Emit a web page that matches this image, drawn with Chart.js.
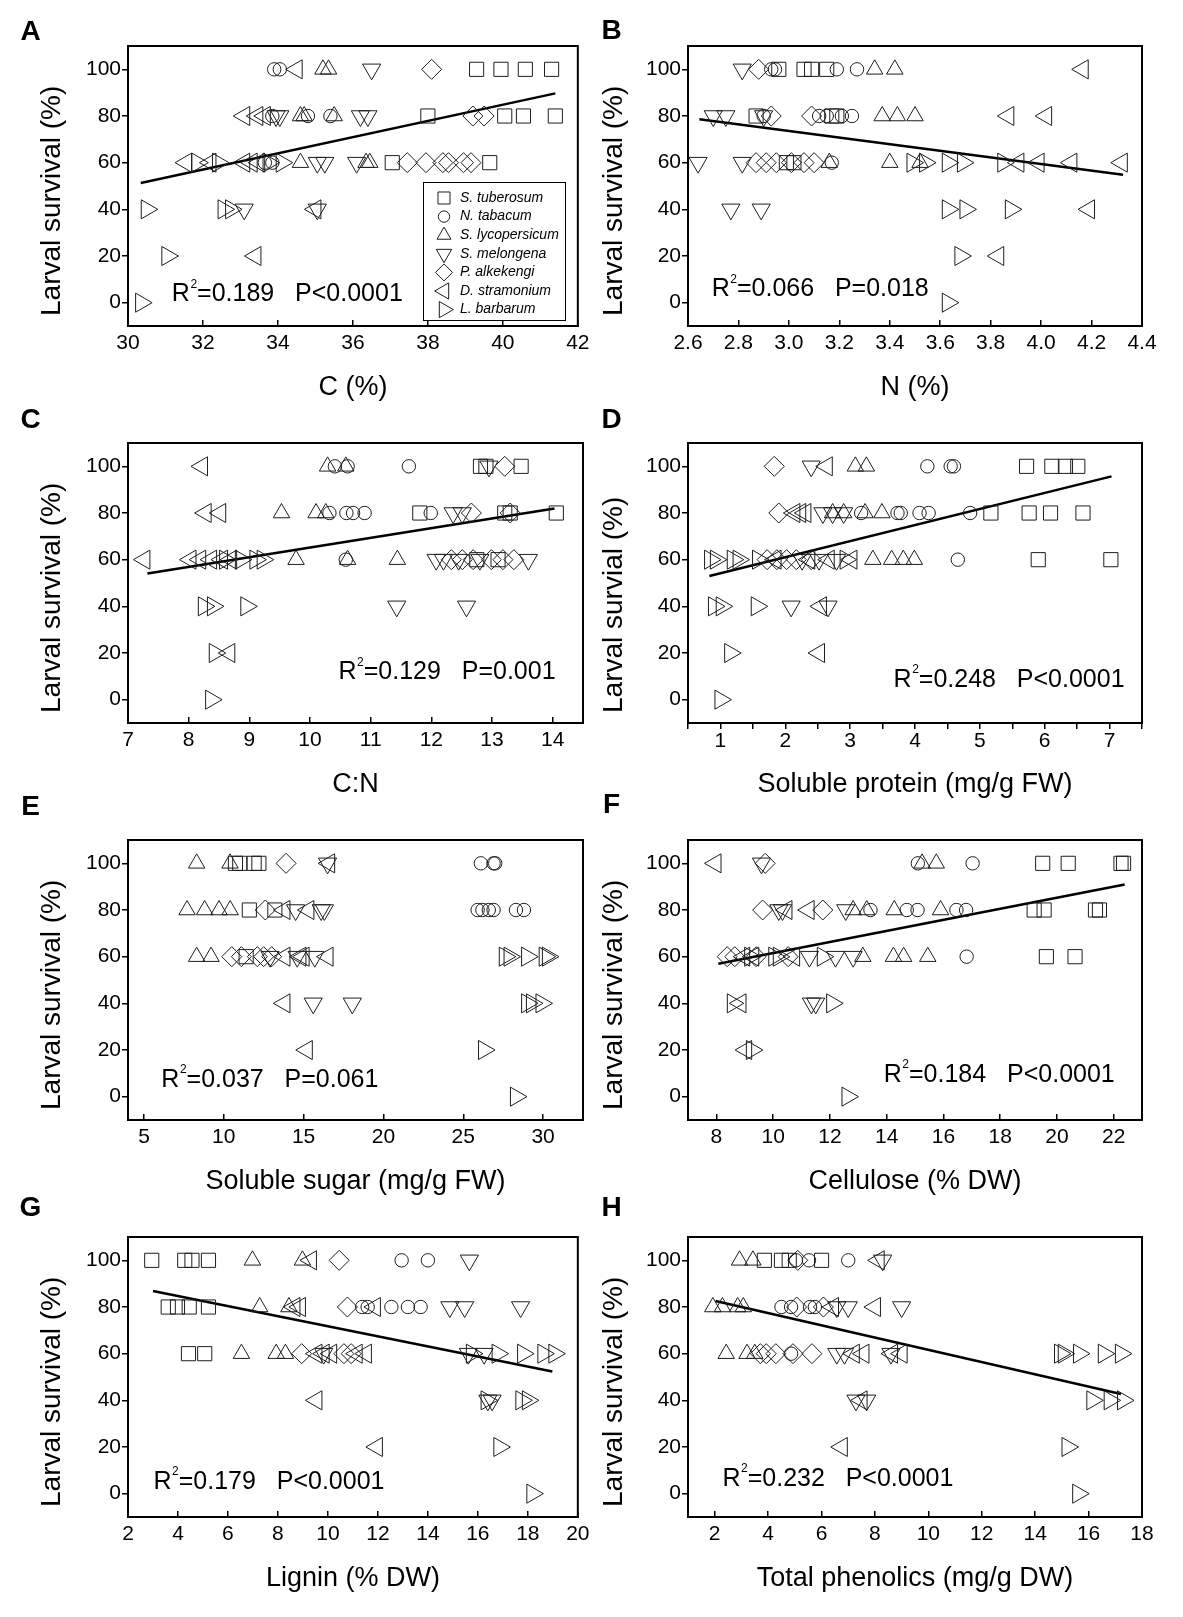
<!DOCTYPE html>
<html><head><meta charset="utf-8">
<script src="https://cdn.jsdelivr.net/npm/chart.js@4.4.1/dist/chart.umd.min.js"></script>
<style>
html,body{margin:0;padding:0;background:#fff;}
body{width:1183px;height:1617px;position:relative;overflow:hidden;}
canvas{position:absolute;}
</style></head><body>
<script>
// ---------- categories & ticks ----------
const species = ['S. tuberosum','N. tabacum','S. lycopersicum','S. melongena','P. alkekengi','D. stramonium','L. barbarum'];
const yTicks = [0,20,40,60,80,100];
const yTitle = 'Larval survival (%)';
const yTitleD = 'Larval survial (%)';

// ---------- Panel A: C (%) ----------
const A_xTitle = 'C (%)';
const A_xRange = [30,42];
const A_xTicks = [30,32,34,36,38,40,42];
const A_St = [[39.3,100],[39.95,100],[40.6,100],[41.3,100],[38.0,80],[40.05,80],[40.55,80],[41.4,80],[37.05,60],[39.65,60]];
const A_Nt = [[33.9,100],[34.05,100],[33.85,80],[34.8,80],[35.4,80],[33.65,60],[33.85,60]];
const A_Sl = [[35.2,100],[35.35,100],[34.6,80],[34.7,80],[35.5,80],[34.6,60],[36.35,60],[36.45,60]];
const A_Sm = [[36.5,100],[33.95,80],[34.05,80],[36.2,80],[36.4,80],[35.05,60],[35.25,60],[36.1,60],[33.1,40],[35.05,40]];
const A_Pa = [[38.1,100],[39.2,80],[39.5,80],[37.45,60],[37.95,60],[38.4,60],[38.55,60],[38.95,60],[39.15,60]];
const A_Ds = [[34.5,100],[33.1,80],[33.45,80],[33.65,80],[31.55,60],[32.2,60],[33.1,60],[33.3,60],[33.5,60],[35.0,40],[33.4,20]];
const A_Lb = [[31.85,60],[32.4,60],[33.75,60],[34.1,60],[30.5,40],[32.55,40],[32.75,40],[31.05,20],[30.35,0]];
const A_fit = [[30.34,51.3],[41.4,89.7]];
const A_stat = ['0.189','P<0.0001'];

// ---------- Panel B: N (%) ----------
const B_xTitle = 'N (%)';
const B_xRange = [2.6,4.4];
const B_xTicks = [2.6,2.8,3.0,3.2,3.4,3.6,3.8,4.0,4.2,4.4];
const B_St = [[2.96,100],[3.06,100],[3.09,100],[3.15,100],[2.87,80],[3.17,80],[3.19,80],[2.99,60],[3.02,60]];
const B_Nt = [[2.93,100],[2.945,100],[3.19,100],[3.27,100],[2.90,80],[3.12,80],[3.15,80],[3.21,80],[3.25,80],[3.17,60]];
const B_Sl = [[3.34,100],[3.42,100],[3.37,80],[3.43,80],[3.50,80],[3.16,60],[3.40,60],[3.52,60]];
const B_Sm = [[2.815,100],[2.70,80],[2.75,80],[2.90,80],[2.64,60],[2.815,60],[2.77,40],[2.89,40]];
const B_Pa = [[2.88,100],[2.93,80],[3.09,80],[2.87,60],[2.91,60],[2.95,60],[3.01,60],[3.06,60],[3.10,60]];
const B_Ds = [[4.165,100],[3.87,80],[4.02,80],[3.91,60],[3.99,60],[4.12,60],[4.32,60],[4.19,40],[3.83,20]];
const B_Lb = [[3.49,60],[3.54,60],[3.63,60],[3.69,60],[3.85,60],[3.63,40],[3.70,40],[3.88,40],[3.68,20],[3.63,0]];
const B_fit = [[2.645,78.6],[4.325,54.8]];
const B_stat = ['0.066','P=0.018'];

// ---------- Panel C: C:N ----------
const C_xTitle = 'C:N';
const C_xRange = [7,14.5];
const C_xTicks = [7,8,9,10,11,12,13,14];
const C_St = [[12.81,100],[12.9,100],[13.48,100],[11.81,80],[13.21,80],[13.3,80],[14.06,80],[12.75,60],[13.1,60]];
const C_Nt = [[10.41,100],[10.62,100],[11.63,100],[10.32,80],[10.6,80],[10.71,80],[10.9,80],[11.99,80],[10.59,60]];
const C_Sl = [[10.29,100],[10.59,100],[9.53,80],[10.10,80],[10.26,80],[9.77,60],[10.62,60],[11.44,60]];
const C_Sm = [[12.95,100],[12.36,80],[12.51,80],[12.08,60],[12.2,60],[12.45,60],[12.8,60],[13.6,60],[11.43,40],[12.58,40]];
const C_Pa = [[13.21,100],[12.66,80],[13.3,80],[12.33,60],[12.51,60],[12.69,60],[12.99,60],[13.18,60],[13.36,60]];
const C_Ds = [[8.22,100],[8.28,80],[8.52,80],[7.27,60],[8.03,60],[8.19,60],[8.37,60],[8.55,60],[8.70,60],[8.67,20]];
const C_Lb = [[8.6,60],[8.86,60],[9.10,60],[9.22,60],[8.25,40],[8.4,40],[8.95,40],[8.43,20],[8.37,0]];
const C_fit = [[7.32,54.1],[14.03,81.9]];
const C_stat = ['0.129','P=0.001'];

// ---------- Panel D: Soluble protein ----------
const D_xTitle = 'Soluble protein (mg/g FW)';
const D_xRange = [0.5,7.5];
const D_xTicks = [0.5,1,1.5,2,2.5,3,3.5,4,4.5,5,5.5,6,6.5,7,7.5];
const D_St = [[5.72,100],[6.11,100],[6.32,100],[6.51,100],[5.17,80],[5.76,80],[6.09,80],[6.59,80],[5.90,60],[7.02,60]];
const D_Nt = [[4.19,100],[4.55,100],[4.6,100],[3.17,80],[3.73,80],[3.78,80],[4.07,80],[4.21,80],[4.85,80],[4.66,60]];
const D_Sl = [[3.08,100],[3.25,100],[2.73,80],[2.90,80],[3.23,80],[3.49,80],[3.35,60],[3.64,60],[3.82,60],[3.99,60]];
const D_Sm = [[2.40,100],[2.58,80],[2.73,80],[2.9,80],[2.26,60],[2.52,60],[2.79,60],[2.09,40],[2.66,40]];
const D_Pa = [[1.83,100],[1.90,80],[1.72,60],[1.87,60],[2.02,60],[2.17,60],[2.4,60]];
const D_Ds = [[2.64,100],[2.14,80],[2.23,80],[2.31,80],[1.85,60],[2.37,60],[2.67,60],[3.02,60],[2.55,40],[2.52,20]];
const D_Lb = [[0.84,60],[0.93,60],[1.19,60],[1.28,60],[1.58,60],[2.93,60],[0.9,40],[1.02,40],[1.56,40],[1.15,20],[1.0,0]];
const D_fit = [[0.83,53.0],[7.03,95.7]];
const D_stat = ['0.248','P<0.0001'];

// ---------- Panel E: Soluble sugar ----------
const E_xTitle = 'Soluble sugar (mg/g FW)';
const E_xRange = [4,32.5];
const E_xTicks = [5,10,15,20,25,30];
const E_St = [[10.73,100],[11.0,100],[11.9,100],[12.2,100],[11.6,80],[13.2,80],[11.4,60]];
const E_Nt = [[26.1,100],[26.9,100],[27.0,100],[25.9,80],[26.2,80],[26.6,80],[26.9,80],[28.3,80],[28.8,80]];
const E_Sl = [[8.3,100],[10.39,100],[7.7,80],[8.8,80],[9.7,80],[10.4,80],[8.3,60],[9.2,60]];
const E_Sm = [[16.5,100],[14.5,80],[16.1,80],[16.3,80],[12.9,60],[14.6,60],[15.7,60],[15.6,40],[18.05,40]];
const E_Pa = [[13.9,100],[12.6,80],[10.5,60],[11.1,60],[12.1,60],[12.5,60],[13.0,60]];
const E_Ds = [[16.6,100],[13.8,80],[15.3,80],[13.8,60],[14.8,60],[15.0,60],[16.5,60],[13.8,40],[15.2,20]];
const E_Lb = [[27.6,60],[27.9,60],[29.0,60],[30.1,60],[30.3,60],[29.0,40],[29.3,40],[29.9,40],[26.3,20],[28.3,0]];
const E_fit = null;
const E_stat = ['0.037','P=0.061'];

// ---------- Panel F: Cellulose ----------
const F_xTitle = 'Cellulose (% DW)';
const F_xRange = [7,23];
const F_xTicks = [8,10,12,14,16,18,20,22];
const F_St = [[19.5,100],[20.4,100],[22.26,100],[22.35,100],[19.2,80],[19.55,80],[21.36,80],[21.5,80],[19.63,60],[20.64,60]];
const F_Nt = [[15.1,100],[17.03,100],[13.43,80],[14.71,80],[15.09,80],[16.46,80],[16.8,80],[16.82,60]];
const F_Sl = [[15.25,100],[15.75,100],[12.82,80],[13.3,80],[14.27,80],[15.9,80],[13.16,60],[14.24,60],[14.6,60],[15.45,60]];
const F_Sm = [[9.59,100],[10.2,80],[10.33,80],[12.56,80],[11.28,60],[12.2,60],[12.82,60],[11.35,40],[11.5,40]];
const F_Pa = [[9.72,100],[9.63,80],[11.75,80],[8.38,60],[8.65,60],[9.4,60],[10.53,60]];
const F_Ds = [[7.97,100],[10.47,80],[11.25,80],[8.98,60],[9.3,60],[10.74,60],[8.85,40],[9.05,20]];
const F_Lb = [[9.19,60],[10.04,60],[10.2,60],[11.75,60],[8.58,40],[12.08,40],[9.25,20],[12.62,0]];
const F_fit = [[8.07,57.0],[22.39,90.9]];
const F_stat = ['0.184','P<0.0001'];

// ---------- Panel G: Lignin ----------
const G_xTitle = 'Lignin (% DW)';
const G_xRange = [2,20];
const G_xTicks = [2,4,6,8,10,12,14,16,18,20];
const G_St = [[2.95,100],[4.27,100],[4.56,100],[5.22,100],[3.61,80],[3.98,80],[4.45,80],[5.22,80],[4.42,60],[5.07,60]];
const G_Nt = [[12.95,100],[14.0,100],[11.37,80],[11.59,80],[12.54,80],[13.2,80],[13.71,80]];
const G_Sl = [[6.98,100],[8.98,100],[7.27,80],[8.44,80],[6.54,60],[7.93,60],[8.3,60]];
const G_Sm = [[15.66,100],[14.88,80],[15.47,80],[17.71,80],[9.83,60],[15.62,60],[16.25,60],[16.57,40],[16.4,40]];
const G_Pa = [[10.45,100],[10.78,80],[8.95,60],[10.64,60],[10.93,60]];
const G_Ds = [[9.32,100],[8.66,80],[8.88,80],[11.88,80],[9.54,60],[9.83,60],[10.13,60],[11.15,60],[11.52,60],[9.54,40],[11.96,20]];
const G_Lb = [[15.76,60],[16.79,60],[17.81,60],[18.62,60],[19.06,60],[16.35,40],[17.74,40],[18.0,40],[16.86,20],[18.18,0]];
const G_fit = [[3.0,86.9],[18.98,52.4]];
const G_stat = ['0.179','P<0.0001'];

// ---------- Panel H: Total phenolics ----------
const H_xTitle = 'Total phenolics (mg/g DW)';
const H_xRange = [1,18];
const H_xTicks = [2,4,6,8,10,12,14,16,18];
const H_St = [[3.86,100],[4.5,100],[4.79,100],[6.0,100]];
const H_Nt = [[5.04,100],[5.53,100],[7.0,100],[4.5,80],[4.86,80],[5.57,80],[5.75,80],[4.86,60]];
const H_Sl = [[2.93,100],[3.43,100],[1.93,80],[2.29,80],[2.86,80],[3.07,80],[2.43,60],[3.21,60],[3.5,60]];
const H_Sm = [[8.29,100],[6.57,80],[7.0,80],[9.0,80],[6.57,60],[6.86,60],[8.6,60],[7.29,40],[7.69,40]];
const H_Pa = [[5.11,100],[5.07,80],[6.07,80],[3.71,60],[3.93,60],[4.29,60],[4.93,60],[5.64,60]];
const H_Ds = [[8.14,100],[6.43,80],[8.0,80],[7.21,60],[7.57,60],[8.64,60],[9.0,60],[7.5,40],[6.76,20]];
const H_Lb = [[14.93,60],[15.07,60],[15.64,60],[16.57,60],[17.21,60],[16.14,40],[16.79,40],[17.29,40],[15.21,20],[15.61,0]];
const H_fit = [[2.03,82.6],[17.21,42.7]];
const H_stat = ['0.232','P<0.0001'];

// ---------- panel table built from the arrays ----------
const panels = [
  {key:'A', sets:[A_St,A_Nt,A_Sl,A_Sm,A_Pa,A_Ds,A_Lb], fit:A_fit, xRange:A_xRange, xTicks:A_xTicks, xTitle:A_xTitle, yTitle:yTitle, stat:A_stat},
  {key:'B', sets:[B_St,B_Nt,B_Sl,B_Sm,B_Pa,B_Ds,B_Lb], fit:B_fit, xRange:B_xRange, xTicks:B_xTicks, xTitle:B_xTitle, yTitle:yTitle, stat:B_stat},
  {key:'C', sets:[C_St,C_Nt,C_Sl,C_Sm,C_Pa,C_Ds,C_Lb], fit:C_fit, xRange:C_xRange, xTicks:C_xTicks, xTitle:C_xTitle, yTitle:yTitle, stat:C_stat},
  {key:'D', sets:[D_St,D_Nt,D_Sl,D_Sm,D_Pa,D_Ds,D_Lb], fit:D_fit, xRange:D_xRange, xTicks:D_xTicks, xTitle:D_xTitle, yTitle:yTitleD, stat:D_stat},
  {key:'E', sets:[E_St,E_Nt,E_Sl,E_Sm,E_Pa,E_Ds,E_Lb], fit:E_fit, xRange:E_xRange, xTicks:E_xTicks, xTitle:E_xTitle, yTitle:yTitle, stat:E_stat},
  {key:'F', sets:[F_St,F_Nt,F_Sl,F_Sm,F_Pa,F_Ds,F_Lb], fit:F_fit, xRange:F_xRange, xTicks:F_xTicks, xTitle:F_xTitle, yTitle:yTitle, stat:F_stat},
  {key:'G', sets:[G_St,G_Nt,G_Sl,G_Sm,G_Pa,G_Ds,G_Lb], fit:G_fit, xRange:G_xRange, xTicks:G_xTicks, xTitle:G_xTitle, yTitle:yTitle, stat:G_stat},
  {key:'H', sets:[H_St,H_Nt,H_Sl,H_Sm,H_Pa,H_Ds,H_Lb], fit:H_fit, xRange:H_xRange, xTicks:H_xTicks, xTitle:H_xTitle, yTitle:yTitle, stat:H_stat}
];

// ---------- layout & style (positions kept out of the data) ----------
const FONT = '"Liberation Sans", Arial, Helvetica, sans-serif';
const markerColor = '#1e1e1e';
const markerStyles = [
  {pointStyle:'rect',     rotation:0,   radius:10},
  {pointStyle:'circle',   rotation:0,   radius:6.7},
  {pointStyle:'triangle', rotation:0,   radius:9.5},
  {pointStyle:'triangle', rotation:180, radius:10.5},
  {pointStyle:'rectRot',  rotation:0,   radius:10},
  {pointStyle:'triangle', rotation:270, radius:11},
  {pointStyle:'triangle', rotation:90,  radius:11}
];
const layout = {
  A:{col:0,row:0,letterY:32,tickIn:true, fmt:'int', statAt:[31.17,3.6], legend:true},
  B:{col:1,row:0,letterY:31,tickIn:true, fmt:'dec1',statAt:[2.694,5.7]},
  C:{col:0,row:1,letterY:23,tickIn:true, fmt:'int', statAt:[10.47,11.7]},
  D:{col:1,row:1,letterY:23,tickIn:false,fmt:'intOnly',statAt:[3.67,8.5]},
  E:{col:0,row:2,letterY:13,tickIn:true, fmt:'int', statAt:[6.09,7.1]},
  F:{col:1,row:2,letterY:11,tickIn:true, fmt:'int', statAt:[13.9,9.3]},
  G:{col:0,row:3,letterY:17,tickIn:true, fmt:'int', statAt:[3.02,5.0]},
  H:{col:1,row:3,letterY:17,tickIn:true, fmt:'int', statAt:[2.29,6.4]}
};
const COLS = [
  {left:0,   width:600, plotLeft:128, plotRight:583, letterX:30.5, yTitleX:52},
  {left:590, width:593, plotLeft:98,  plotRight:552, letterX:21.5, yTitleX:24}
];
const ROW_PITCH = 397, CANVAS_H = 410, PLOT_TOP = 46, PLOT_H = 280;
const fmts = {
  int: v => String(v),
  dec1: v => Number(v).toFixed(1),
  intOnly: v => Number.isInteger(v) ? String(v) : ''
};

Chart.defaults.font.family = FONT;
Chart.defaults.color = '#000';

function drawMarker(ctx, st, x, y, scale) {
  ctx.save();
  ctx.strokeStyle = markerColor;
  ctx.fillStyle = 'rgba(0,0,0,0)';
  ctx.lineWidth = 1;
  const opts = {pointStyle: st.pointStyle, rotation: st.rotation, radius: st.radius*scale, borderWidth: 1};
  if (Chart.helpers && Chart.helpers.drawPoint) {
    Chart.helpers.drawPoint(ctx, opts, x, y);
  }
  ctx.restore();
}

function makeDecor(p, L, C) {
  return {
    id: 'decor' + p.key,
    afterDraw(chart) {
      const ctx = chart.ctx, a = chart.chartArea;
      const xs = chart.scales.x, ys = chart.scales.y;
      ctx.save();
      // frame
      ctx.strokeStyle = '#000';
      ctx.lineWidth = 2;
      ctx.strokeRect(a.left, a.top, a.right - a.left, a.bottom - a.top);
      // panel letter
      ctx.fillStyle = '#000';
      ctx.font = 'bold 28px ' + FONT;
      ctx.textAlign = 'center';
      ctx.textBaseline = 'middle';
      ctx.fillText(p.key, C.letterX, L.letterY);
      // y title
      ctx.save();
      ctx.translate(C.yTitleX, a.bottom - 10);
      ctx.rotate(-Math.PI/2);
      ctx.font = '28px ' + FONT;
      ctx.textAlign = 'left';
      ctx.textBaseline = 'middle';
      ctx.fillText(p.yTitle, 0, 0);
      ctx.restore();
      // statistics
      const sx = xs.getPixelForValue(L.statAt[0]);
      const sy = ys.getPixelForValue(L.statAt[1]);
      ctx.textAlign = 'left';
      ctx.textBaseline = 'middle';
      ctx.font = '25px ' + FONT;
      ctx.fillText('R', sx, sy);
      let w = ctx.measureText('R').width;
      ctx.font = '12px ' + FONT;
      ctx.fillText('2', sx + w + 0.5, sy - 10);
      w += ctx.measureText('2').width + 0.5;
      ctx.font = '25px ' + FONT;
      ctx.fillText('=' + p.stat[0] + '   ' + p.stat[1], sx + w, sy);
      // legend
      if (L.legend) {
        const bx = 423, by = 182, bw = 142, bh = 138;
        ctx.lineWidth = 1;
        ctx.strokeStyle = '#000';
        ctx.strokeRect(bx + 0.5, by + 0.5, bw, bh);
        ctx.font = 'italic 14px ' + FONT;
        ctx.textAlign = 'left';
        ctx.textBaseline = 'middle';
        species.forEach((s, i) => {
          const yy = by + 16 + i * 18.6;
          drawMarker(ctx, markerStyles[i], bx + 21, yy, 0.85);
          ctx.fillStyle = '#000';
          ctx.fillText(s, bx + 37, yy);
        });
      }
      ctx.restore();
    }
  };
}

panels.forEach(p => {
  const L = layout[p.key];
  const C = COLS[L.col];
  const cv = document.createElement('canvas');
  cv.width = C.width; cv.height = CANVAS_H;
  cv.style.left = C.left + 'px';
  cv.style.top = (L.row * ROW_PITCH) + 'px';
  cv.style.width = C.width + 'px';
  cv.style.height = CANVAS_H + 'px';
  document.body.appendChild(cv);

  const datasets = p.sets.map((pts, i) => ({
    type: 'scatter',
    label: species[i],
    data: pts.map(([x, y]) => ({x, y})),
    pointStyle: markerStyles[i].pointStyle,
    pointRotation: markerStyles[i].rotation,
    pointRadius: markerStyles[i].radius,
    pointHoverRadius: markerStyles[i].radius,
    pointBorderWidth: 1,
    pointBorderColor: markerColor,
    pointBackgroundColor: 'rgba(0,0,0,0)',
    borderColor: markerColor,
    backgroundColor: 'rgba(0,0,0,0)',
    clip: false
  }));
  if (p.fit) {
    datasets.push({
      type: 'line', label: 'fit',
      data: p.fit.map(([x, y]) => ({x, y})),
      borderColor: '#000', borderWidth: 2.5,
      pointRadius: 0, fill: false, tension: 0, clip: false
    });
  }
  const fmt = fmts[L.fmt];
  new Chart(cv, {
    type: 'scatter',
    data: {datasets},
    options: {
      responsive: false, animation: false, devicePixelRatio: 1, events: [],
      layout: {padding: {left: 0, right: C.width - C.plotRight, top: PLOT_TOP, bottom: 0}},
      plugins: {legend: {display: false}, tooltip: {enabled: false}},
      scales: {
        x: {
          type: 'linear', position: 'bottom', min: p.xRange[0], max: p.xRange[1],
          afterBuildTicks: s => { s.ticks = p.xTicks.map(v => ({value: v})); },
          afterFit: s => { s.height = CANVAS_H - PLOT_TOP - PLOT_H; },
          ticks: {autoSkip: false, maxRotation: 0, minRotation: 0, padding: L.tickIn ? 10.5 : 0,
                  font: {size: 21}, color: '#000', callback: v => fmt(v)},
          grid: {drawOnChartArea: false, drawTicks: true, tickLength: L.tickIn ? -6 : 6, color: '#000', lineWidth: 1.5},
          border: {display: true, color: '#000', width: 2},
          title: {display: true, text: p.xTitle, font: {size: 27}, color: '#000', padding: {top: 0, bottom: 6}}
        },
        y: {
          type: 'linear', position: 'left', min: -10, max: 110,
          afterBuildTicks: s => { s.ticks = yTicks.map(v => ({value: v})); },
          afterFit: s => { s.width = C.plotLeft; },
          ticks: {autoSkip: false, padding: 1, font: {size: 21}, color: '#000'},
          grid: {drawOnChartArea: false, drawTicks: true, tickLength: 6, color: '#000', lineWidth: 1.5},
          border: {display: true, color: '#000', width: 2}
        }
      }
    },
    plugins: [makeDecor(p, L, C)]
  });
});
</script>
</body></html>
